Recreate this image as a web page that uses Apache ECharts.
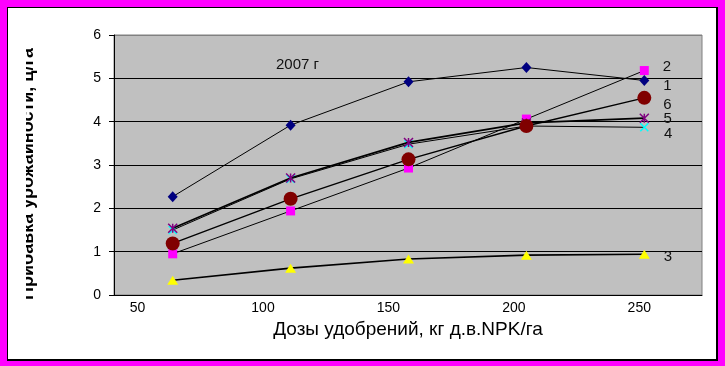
<!DOCTYPE html>
<html>
<head>
<meta charset="utf-8">
<script src="https://cdn.jsdelivr.net/npm/echarts@6/dist/echarts.min.js"></script>
<style>
  html, body { margin: 0; padding: 0; background: #ff00ff; }
  #wrap { position: relative; width: 725px; height: 366px; background: #ff00ff; overflow: hidden; }
  #frame { position: absolute; left: 7px; top: 7px; width: 708px; height: 351px; background: #fff;
           border: 1px solid #000; border-right-width: 2px; border-bottom-width: 2px; }
  #chart { position: absolute; left: 0; top: 0; width: 725px; height: 366px; }
</style>
</head>
<body>
<div id="wrap">
  <div id="frame"></div>
  <div id="chart"></div>
</div>
<script>
// ---- data ----
const doses = [64, 111, 158, 205, 252];            // x positions of the points (kg a.i. NPK/ha)
const xTickLabels = [50, 100, 150, 200, 250];
const yMin = 0, yMax = 6, yStep = 1;
const seriesNames = ['1', '2', '3', '4', '5', '6'];
const s1 = [2.27, 3.92, 4.92, 5.25, 4.95];
const s2 = [0.95, 1.94, 2.93, 4.06, 5.18];
const s3 = [0.34, 0.62, 0.83, 0.92, 0.94];
const s4 = [1.50, 2.68, 3.48, 3.90, 3.87];
const s5 = [1.54, 2.70, 3.52, 3.97, 4.08];
const s6 = [1.19, 2.22, 3.13, 3.90, 4.55];
const yearLabel = '2007 г';
const xTitle = 'Дозы удобрений, кг д.в.NPK/га';
const yTitle = 'Прибавка урожайности, ц/га';

// ---- styles ----
const FONT = '"Liberation Sans", Arial, sans-serif';
const styles = [
  { data: s1, symbol: 'diamond', size: [10, 11], fill: '#000080', stroke: null, lw: 1, off: [14, 5] },
  { data: s2, symbol: 'rect', size: 9, fill: '#ff00ff', stroke: null, lw: 1, off: [14, -4] },
  { data: s3, symbol: 'triangle', size: [11, 9], fill: '#ffff00', stroke: null, lw: 1.6, off: [14, 3] },
  { data: s4, symbol: 'path://M0,0L10,10M10,0L0,10', size: 8, fill: 'rgba(0,0,0,0)', stroke: '#00ffff', lw: 1, off: [15, 7] },
  { data: s5, symbol: 'path://M0,0L10,10M10,0L0,10M5,0L5,10', size: 9, fill: 'rgba(0,0,0,0)', stroke: '#800080', lw: 1.8, off: [14, 1] },
  { data: s6, symbol: 'circle', size: 14, fill: '#800000', stroke: null, lw: 1.4, off: [12, 7] }
];

const series = styles.map((st, i) => {
  const last = st.data.length - 1;
  return {
    name: seriesNames[i],
    type: 'line',
    data: st.data.map((v, j) => [doses[j], v]),
    symbol: st.symbol,
    symbolSize: st.size,
    showAllSymbol: true,
    animation: false,
    lineStyle: { color: '#000', width: st.lw },
    itemStyle: {
      color: st.fill,
      borderColor: st.stroke || st.fill,
      borderWidth: st.stroke ? 1.5 : 0
    },
    emphasis: { disabled: true },
    label: {
      show: true,
      position: 'right',
      distance: 0,
      offset: st.off,
      fontFamily: FONT,
      fontSize: 15,
      color: '#111',
      formatter: p => (p.dataIndex === last ? seriesNames[i] : '')
    },
    z: 2 + i
  };
});

const chart = echarts.init(document.getElementById('chart'), null, { renderer: 'canvas' });
chart.setOption({
  backgroundColor: 'transparent',
  animation: false,
  grid: {
    left: 114, right: 23, top: 35, bottom: 71,
    show: true, backgroundColor: '#c0c0c0', borderColor: '#808080', borderWidth: 1
  },
  xAxis: {
    type: 'value',
    min: 40.6, max: 275,
    axisLine: { show: true, lineStyle: { color: '#000', width: 1 } },
    axisTick: { show: false },
    splitLine: { show: false },
    axisLabel: {
      customValues: xTickLabels,
      fontFamily: FONT, fontSize: 14, color: '#000', margin: 6
    },
    name: xTitle,
    nameLocation: 'middle',
    nameGap: 13,
    nameTextStyle: { fontFamily: FONT, fontSize: 19, color: '#000', verticalAlign: 'top' }
  },
  yAxis: {
    type: 'value',
    min: yMin, max: yMax, interval: yStep,
    axisLine: { show: true, lineStyle: { color: '#000', width: 1 } },
    axisTick: { show: true, inside: false, length: 5, lineStyle: { color: '#000' } },
    splitLine: { show: true, lineStyle: { color: ['#000', '#000', '#000', '#000', '#000', '#000', '#808080'], width: 1 } },
    axisLabel: { fontFamily: FONT, fontSize: 14, color: '#000', margin: 13 }
  },
  graphic: [
    {
      type: 'text', left: 276, top: 57, z: 10,
      style: { text: yearLabel, font: '15px ' + FONT, fill: '#111' }
    },
    {
      type: 'text', x: 28, y: 174, rotation: Math.PI / 2, z: 10,
      style: { text: yTitle, font: 'bold 18px ' + FONT, fill: '#000', align: 'center', verticalAlign: 'middle' }
    },
    {
      type: 'rect', shape: { x: 8, y: 40, width: 18, height: 270 }, z: 11,
      style: { fill: '#fff' }, silent: true
    }
  ],
  series: series
});
</script>
</body>
</html>
